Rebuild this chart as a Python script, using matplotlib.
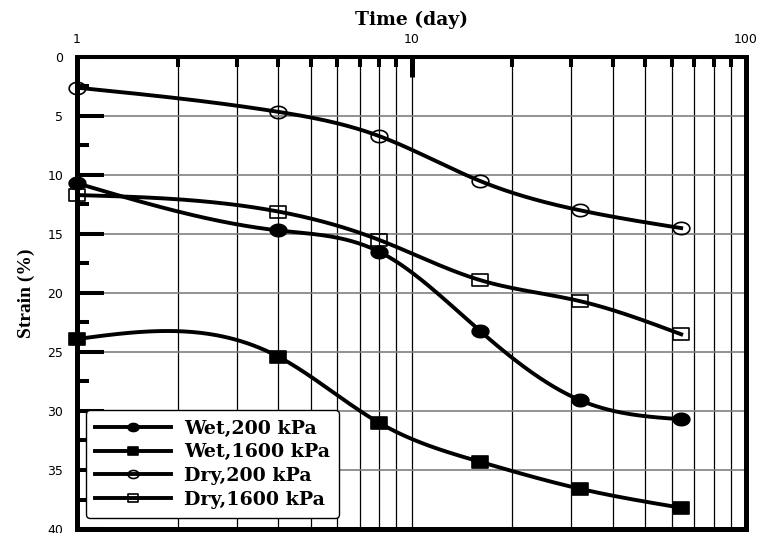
import numpy as np
import matplotlib
matplotlib.use("Agg")
import matplotlib.pyplot as plt
from matplotlib.path import Path
from matplotlib.ticker import LogLocator, NullFormatter, MultipleLocator

# data
time_days = [1, 4, 8, 16, 32, 64]
wet_200 = [10.7, 14.7, 16.5, 23.2, 29.1, 30.7]
wet_1600 = [23.9, 25.4, 31.0, 34.3, 36.6, 38.2]
dry_200 = [2.6, 4.65, 6.7, 10.5, 13.0, 14.5]
dry_1600 = [11.7, 13.1, 15.5, 18.9, 20.7, 23.5]
labels = ["Wet,200 kPa", "Wet,1600 kPa", "Dry,200 kPa", "Dry,1600 kPa"]
x_ticks = [1, 10, 100]
x_tick_labels = ["1", "10", "100"]


def smooth(xs, ys, n=300):
    # natural cubic spline in log10(x) for drawing the curve
    t = np.log10(np.asarray(xs, float))
    y = np.asarray(ys, float)
    h = np.diff(t)
    m = len(t)
    A = np.zeros((m, m))
    r = np.zeros(m)
    A[0, 0] = A[-1, -1] = 1
    for i in range(1, m - 1):
        A[i, i - 1] = h[i - 1]
        A[i, i] = 2 * (h[i - 1] + h[i])
        A[i, i + 1] = h[i]
        r[i] = 6 * ((y[i + 1] - y[i]) / h[i] - (y[i] - y[i - 1]) / h[i - 1])
    M = np.linalg.solve(A, r)
    tt = np.linspace(t[0], t[-1], n)
    k = np.clip(np.searchsorted(t, tt) - 1, 0, m - 2)
    hk = h[k]
    a = t[k + 1] - tt
    b = tt - t[k]
    s = (M[k] * a ** 3 / (6 * hk) + M[k + 1] * b ** 3 / (6 * hk)
         + (y[k] / hk - M[k] * hk / 6) * a + (y[k + 1] / hk - M[k + 1] * hk / 6) * b)
    return 10 ** tt, s


# horizontally stretched markers, like in the reference
th = np.linspace(0, 2 * np.pi, 41)
ellipse = Path(np.column_stack([1.35 * np.cos(th), np.sin(th)]), closed=True)
rect = Path([(-1.35, -1), (1.35, -1), (1.35, 1), (-1.35, 1), (-1.35, -1)],
            [Path.MOVETO, Path.LINETO, Path.LINETO, Path.LINETO, Path.CLOSEPOLY])

fig = plt.figure(figsize=(7.61, 5.33), dpi=100)
ax = fig.add_axes([0.1012, 0.0075, 0.8791, 0.8856])

series = [
    (wet_200, ellipse, "black"),
    (wet_1600, rect, "black"),
    (dry_200, ellipse, "none"),
    (dry_1600, rect, "none"),
]
for (vals, mk, fc), lab in zip(series, labels):
    sx, sy = smooth(time_days, vals)
    ax.plot(sx, sy, color="black", lw=2.8, zorder=3)
    ax.plot(time_days, vals, ls="none", marker=mk, ms=12, mfc=fc, mec="black",
            mew=1.2, zorder=4, clip_on=False)
    ax.plot([], [], color="black", lw=2.8, marker=mk, ms=12, mfc=fc, mec="black",
            mew=1.2, label=lab)

ax.set_xscale("log")
ax.set_xlim(1, 100)
ax.set_ylim(40, 0)

ax.xaxis.tick_top()
ax.set_xticks(x_ticks)
ax.set_xticklabels(x_tick_labels)
ax.xaxis.set_minor_locator(LogLocator(base=10, subs=np.arange(2, 10)))
ax.xaxis.set_minor_formatter(NullFormatter())
ax.yaxis.set_major_locator(MultipleLocator(5))
ax.yaxis.set_minor_locator(MultipleLocator(2.5))

ax.tick_params(axis="x", which="major", direction="in", length=14.5, width=3.6,
               pad=8, labelsize=9, top=True, bottom=False)
ax.tick_params(axis="x", which="minor", direction="in", length=7, width=2.9,
               top=True, bottom=False)
ax.tick_params(axis="y", which="major", direction="in", length=19.5, width=2.9,
               pad=10, labelsize=9, left=True, right=False)
ax.tick_params(axis="y", which="minor", direction="in", length=8.6, width=2.9,
               left=True, right=False)

ax.grid(which="both", axis="x", color="black", lw=0.9)
ax.grid(which="major", axis="y", color="#808080", lw=1.2)
ax.set_axisbelow(True)

for side, w in [("left", 3.6), ("top", 2.9), ("right", 3.6), ("bottom", 3.6)]:
    ax.spines[side].set_linewidth(w)

ax.xaxis.set_label_position("top")
ax.set_xlabel("Time (day)", family="DejaVu Serif", fontweight="bold",
              fontsize=13.5, labelpad=6)
ax.set_ylabel("Strain (%)", family="Liberation Serif", fontweight="bold",
              fontsize=14, labelpad=9)

leg = ax.legend(loc="lower left", bbox_to_anchor=(0.013, 0.023), borderaxespad=0,
                frameon=True, fancybox=True, framealpha=1, edgecolor="black",
                handlelength=4.0, handletextpad=0.65, markerscale=0.65,
                labelspacing=0.3, borderpad=0.5,
                prop={"family": "DejaVu Serif", "weight": "bold", "size": 13.7})
leg.get_frame().set_linewidth(1.0)
leg.set_zorder(5)

fig.savefig("out.png", dpi=100)
